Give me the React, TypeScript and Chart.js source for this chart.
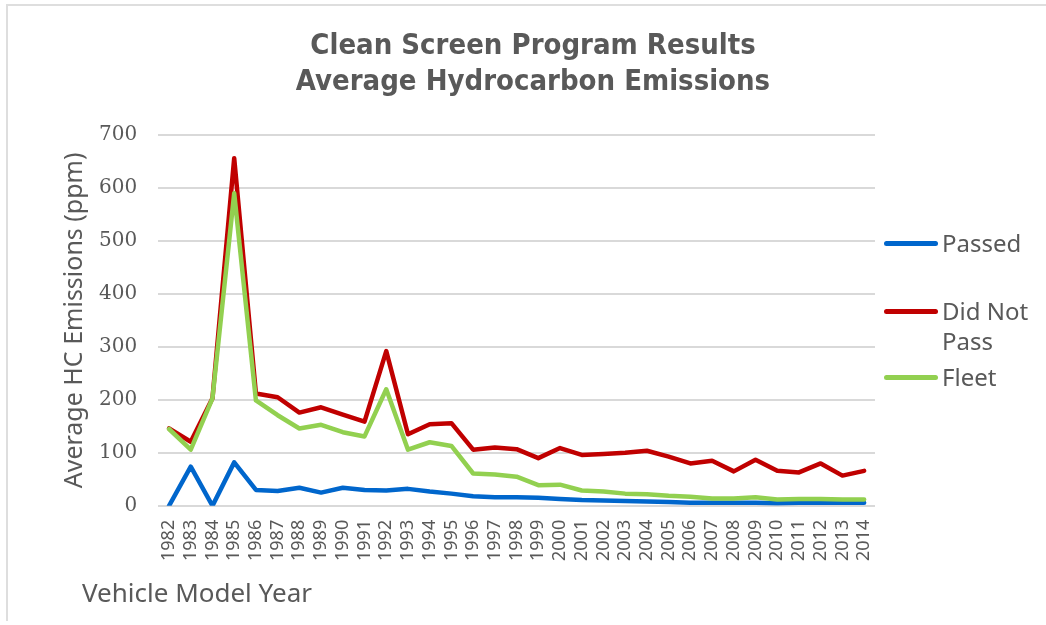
import React, { useEffect, useRef } from "react";
import { Chart, registerables } from "chart.js";

Chart.register(...registerables);

const years: string[] = [
  "1982", "1983", "1984", "1985", "1986", "1987", "1988", "1989", "1990", "1991",
  "1992", "1993", "1994", "1995", "1996", "1997", "1998", "1999", "2000", "2001",
  "2002", "2003", "2004", "2005", "2006", "2007", "2008", "2009", "2010", "2011",
  "2012", "2013", "2014",
];

const passed: number[] = [
  0, 74, 0, 82, 30, 28, 34, 25, 34, 30,
  29, 32, 27, 23, 18, 16, 16, 15, 13, 11,
  10, 9, 8, 7, 6, 6, 6, 6, 5, 6,
  6, 6, 6,
];

const didNotPass: number[] = [
  146, 121, 203, 656, 212, 205, 176, 186, 172, 159,
  292, 135, 154, 156, 106, 110, 107, 90, 109, 96,
  98, 100, 104, 93, 80, 85, 65, 87, 66, 63,
  80, 57, 66,
];

const fleet: number[] = [
  145, 106, 203, 590, 199, 171, 146, 153, 139, 131,
  220, 106, 120, 113, 61, 59, 55, 39, 40, 29,
  27, 23, 22, 19, 17, 14, 14, 16, 12, 13,
  13, 12, 12,
];

const yTicks: number[] = [0, 100, 200, 300, 400, 500, 600, 700];

const seriesNames: string[] = ["Passed", "Did Not Pass", "Fleet"];
const seriesColors: string[] = ["#0066CC", "#C00000", "#92D050"];

const titleLines: string[] = ["Clean Screen Program Results", "Average Hydrocarbon Emissions"];
const yTitle = "Average HC Emissions (ppm)";
const xTitle = "Vehicle Model Year";

const textColor = "#595959";
const sansFont = "'Noto Sans', 'Open Sans', sans-serif";

export default function App() {
  const canvasRef = useRef<HTMLCanvasElement | null>(null);

  useEffect(() => {
    const canvas = canvasRef.current;
    if (!canvas) return;
    const values = [passed, didNotPass, fleet];
    const orders = [2, 1, 0];
    const chart = new Chart(canvas, {
      type: "line",
      data: {
        labels: years,
        datasets: seriesNames.map((name, i) => ({
          label: name,
          data: values[i],
          borderColor: seriesColors[i],
          backgroundColor: seriesColors[i],
          borderWidth: 4.5,
          pointRadius: 0,
          pointHoverRadius: 0,
          tension: 0,
          fill: false,
          borderCapStyle: "round",
          borderJoinStyle: "round",
          order: orders[i],
        })),
      },
      options: {
        animation: false,
        responsive: false,
        maintainAspectRatio: false,
        layout: { padding: { left: 60, right: 171, top: 135, bottom: 50 } },
        plugins: {
          legend: { display: false },
          tooltip: { enabled: false },
          title: { display: false },
        },
        scales: {
          x: {
            type: "category",
            offset: true,
            grid: { display: false, drawTicks: false },
            border: { display: false },
            ticks: {
              autoSkip: false,
              minRotation: 90,
              maxRotation: 90,
              padding: 14,
              color: textColor,
              font: { family: sansFont, size: 18 },
            },
          },
          y: {
            min: 0,
            max: 700,
            afterBuildTicks: (scale: any) => {
              scale.ticks = yTicks.map((v) => ({ value: v }));
            },
            grid: { color: "#D9D9D9", lineWidth: 2, drawTicks: true, tickLength: 21, tickColor: "rgba(0,0,0,0)" },
            border: { display: false },
            ticks: {
              padding: 0,
              color: textColor,
              font: { family: "'DejaVu Serif', serif", size: 20 },
            },
            title: {
              display: true,
              text: yTitle,
              color: textColor,
              font: { family: sansFont, size: 25, lineHeight: 1.2 },
              padding: { top: 0, bottom: 9 },
            },
          },
        },
      },
    });
    return () => chart.destroy();
  }, []);

  const legendRows = [
    { lines: ["Passed"], color: seriesColors[0], top: 243 },
    { lines: ["Did Not", "Pass"], color: seriesColors[1], top: 311 },
    { lines: ["Fleet"], color: seriesColors[2], top: 377 },
  ];

  return (
    <div style={{ position: "fixed", left: 0, top: 0, width: 1046, height: 625, background: "#fff", overflow: "hidden" }}>
      <div style={{ position: "absolute", left: 6, top: 4, right: 0, height: 0, borderTop: "2px solid #DEDEDE" }} />
      <div style={{ position: "absolute", left: 6, top: 4, bottom: 4, width: 0, borderLeft: "2px solid #DEDEDE" }} />
      <canvas ref={canvasRef} width={1046} height={625} style={{ position: "absolute", left: 0, top: 0, width: 1046, height: 625 }} />
      <div
        style={{
          position: "absolute",
          left: 233,
          width: 600,
          top: 26,
          textAlign: "center",
          fontFamily: "'DejaVu Sans Condensed', 'DejaVu Sans', sans-serif",
          fontWeight: "bold",
          fontSize: 29,
          lineHeight: "36px",
          color: textColor,
        }}
      >
        {titleLines.map((t) => (
          <div key={t}>{t}</div>
        ))}
      </div>
      {legendRows.map((row) => (
        <div key={row.lines[0]}>
          <div style={{ position: "absolute", left: 884, top: row.top - 2, width: 54, height: 5, borderRadius: 3, background: row.color }} />
          {row.lines.map((ln, j) => (
            <div
              key={ln}
              style={{
                position: "absolute",
                left: 942,
                top: row.top - 16 + j * 30,
                height: 32,
                lineHeight: "32px",
                fontFamily: sansFont,
                fontSize: 24,
                color: textColor,
                whiteSpace: "nowrap",
              }}
            >
              {ln}
            </div>
          ))}
        </div>
      ))}
      <div
        style={{
          position: "absolute",
          left: 82,
          top: 576,
          height: 32,
          lineHeight: "32px",
          fontFamily: sansFont,
          fontSize: 26,
          color: textColor,
          whiteSpace: "nowrap",
        }}
      >
        {xTitle}
      </div>
    </div>
  );
}
